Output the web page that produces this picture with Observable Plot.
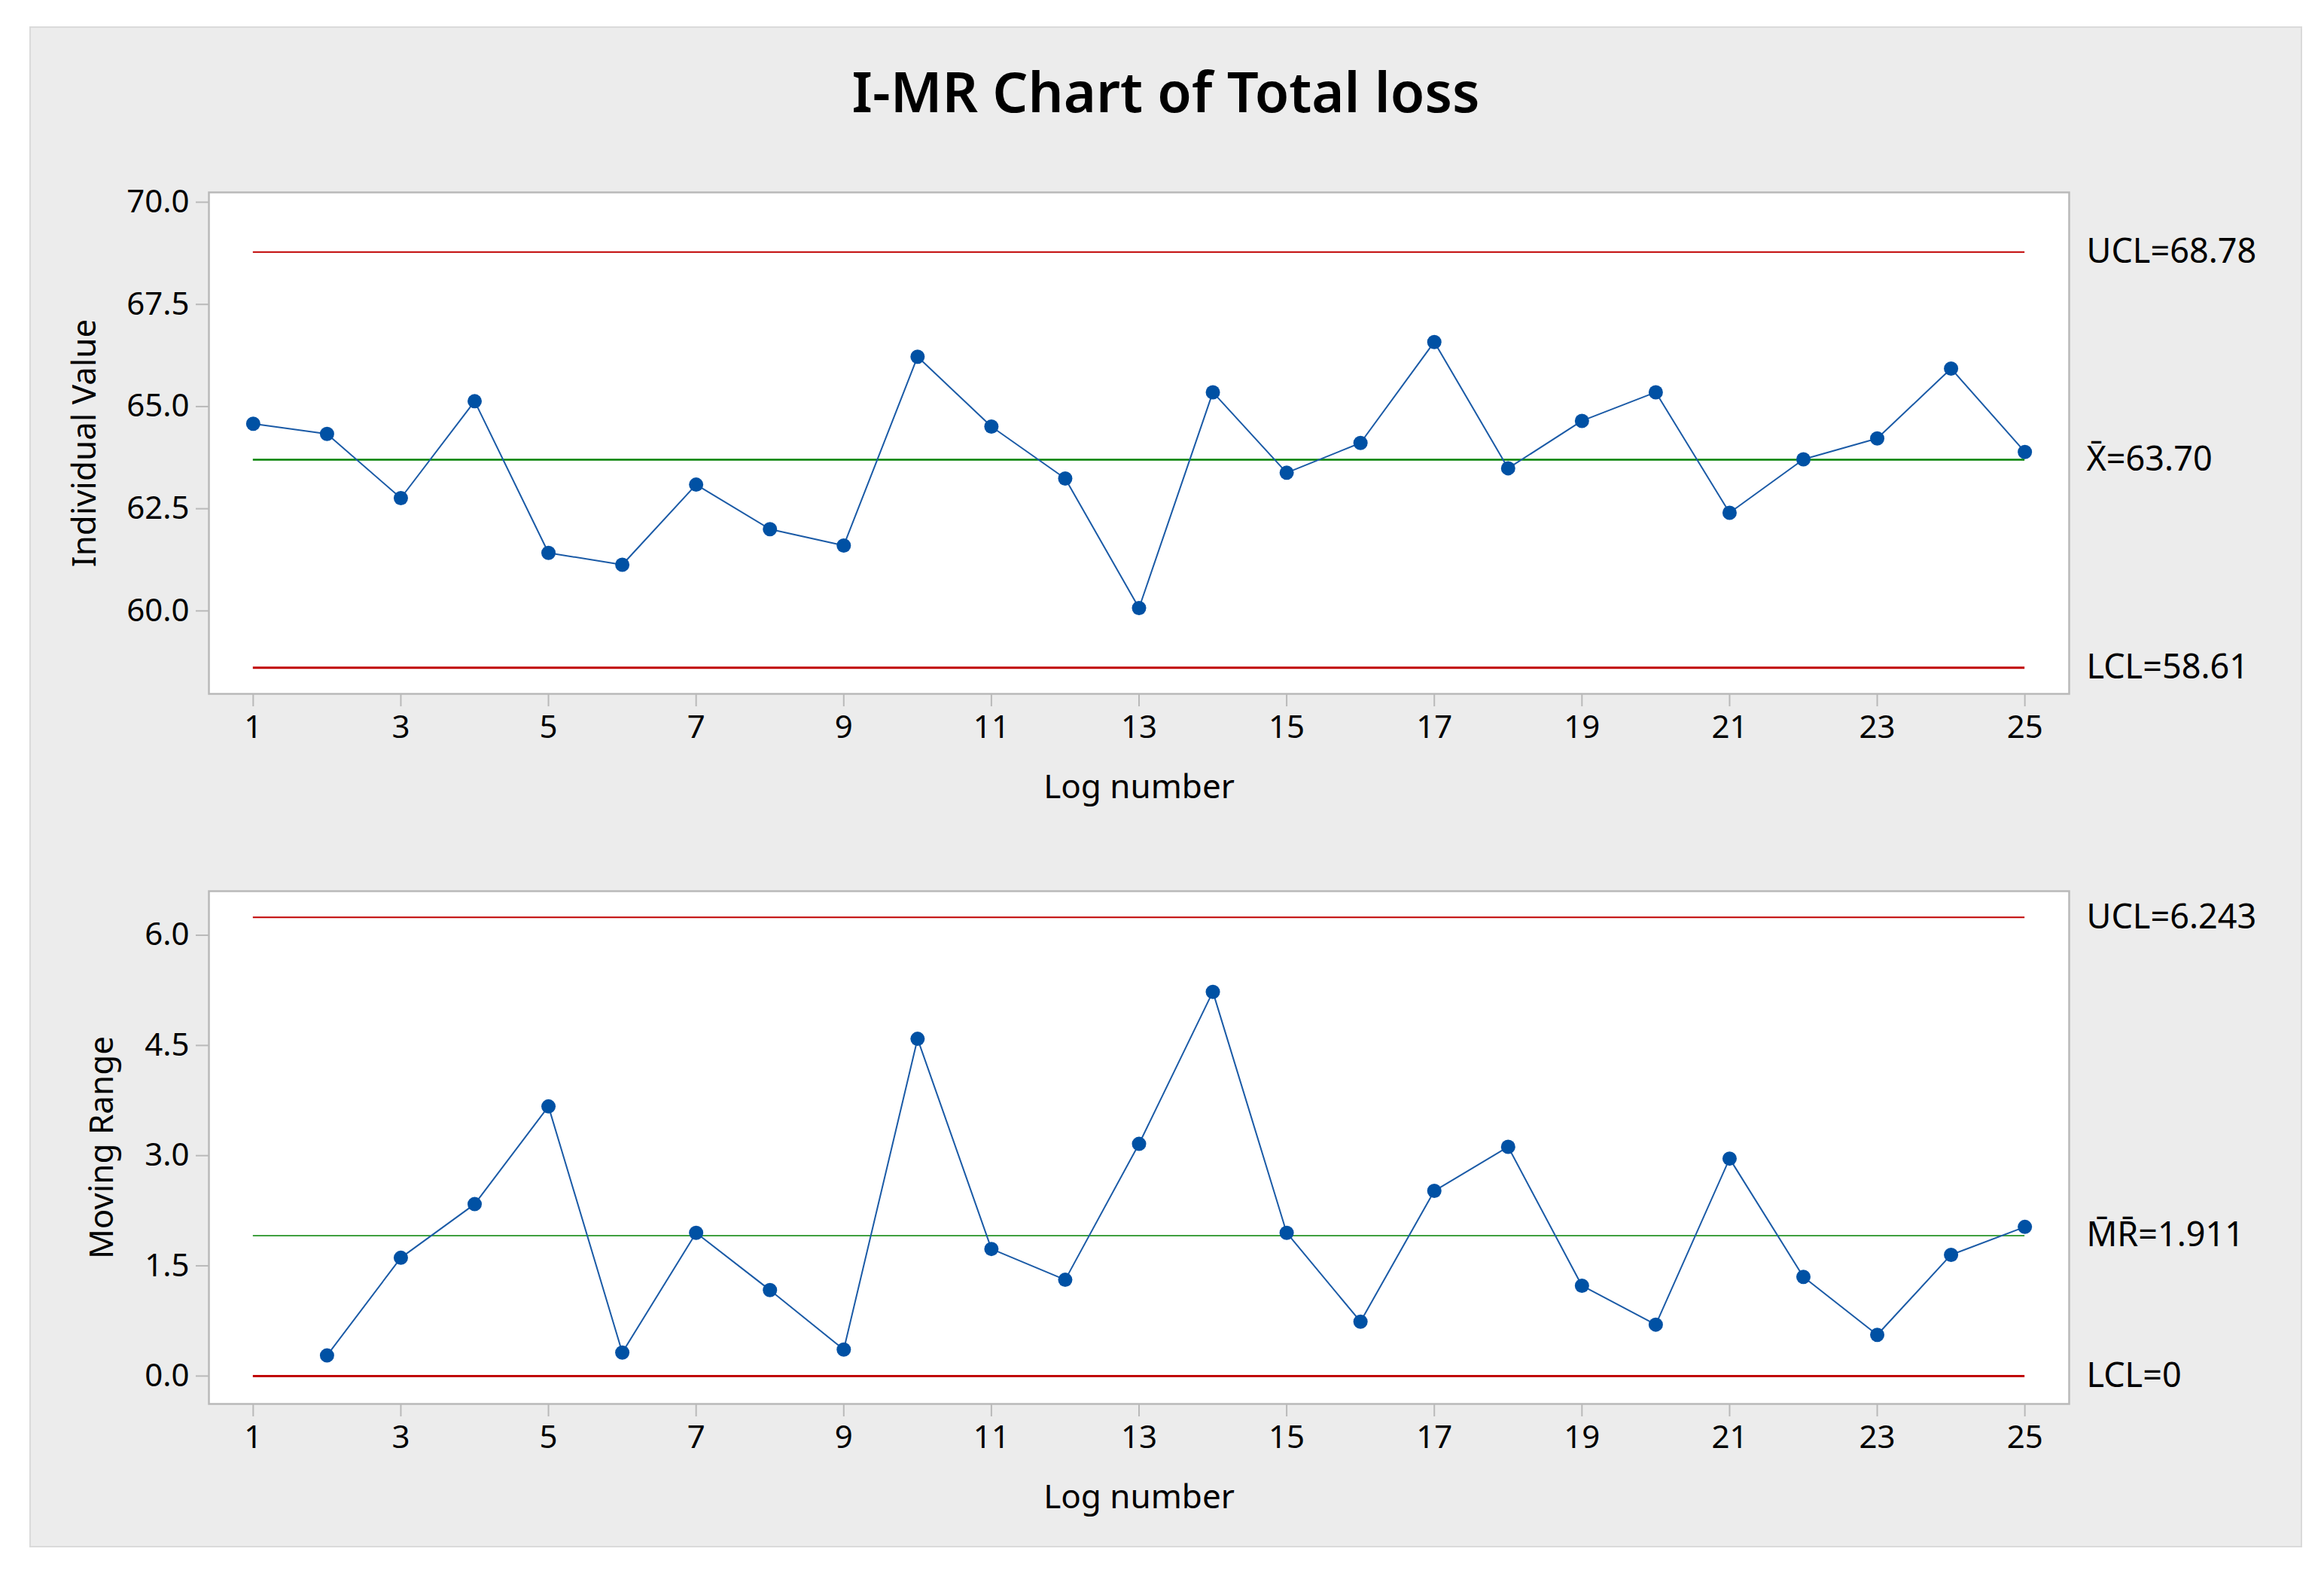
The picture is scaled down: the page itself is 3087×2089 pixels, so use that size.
<!DOCTYPE html>
<html>
<head>
<meta charset="utf-8">
<script src="https://cdn.jsdelivr.net/npm/d3@7"></script>
<script src="https://cdn.jsdelivr.net/npm/@observablehq/plot@0.6"></script>
<style>
  html, body { margin: 0; padding: 0; background: #ffffff; }
  #panel { position: absolute; left: 39px; top: 35px; width: 3019px; height: 2020px;
           background: #ececec; box-shadow: inset 0 0 0 2px #dadada; }
  #title { position: absolute; left: 0; top: 36px; width: 100%; height: 100px; line-height: 100px;
           text-align: center; font-family: "Noto Sans", sans-serif; font-weight: 600; font-size: 74px; color: #000; }
  #top { position: absolute; left: 0; top: 165px; }
  #bottom { position: absolute; left: 0; top: 1095px; }
  svg { display: block; }
</style>
</head>
<body>
<div id="panel">
  <div id="title">I-MR Chart of Total loss</div>
  <div id="top"></div>
  <div id="bottom"></div>
</div>
<script>
// ---- data ----
const logNumbers = [1,2,3,4,5,6,7,8,9,10,11,12,13,14,15,16,17,18,19,20,21,22,23,24,25];
const individualValues = [64.58,64.33,62.76,65.13,61.42,61.13,63.09,62.00,61.60,66.22,64.51,63.24,60.07,
                          65.35,63.38,64.11,66.58,63.49,64.65,65.35,62.40,63.71,64.22,65.93,63.89];
const movingRanges = [null,0.28,1.61,2.34,3.67,0.32,1.95,1.17,0.36,4.59,1.73,1.31,3.16,
                      5.23,1.95,0.74,2.52,3.12,1.23,0.70,2.96,1.35,0.56,1.65,2.03];
const xTicks = [1,3,5,7,9,11,13,15,17,19,21,23,25];
const iTicks = [60.0, 62.5, 65.0, 67.5, 70.0];
const mrTicks = [0.0, 1.5, 3.0, 4.5, 6.0];
const iLimitValues = [68.78, 63.70, 58.61];
const iLimitLabels = ["UCL=68.78", "X\u0304=63.70", "LCL=58.61"];
const mrLimitValues = [6.243, 1.911, 0];
const mrLimitLabels = ["UCL=6.243", "M\u0304R\u0304=1.911", "LCL=0"];
const limitKinds = ["ucl", "center", "lcl"];
const iDomain = [57.97, 70.24];
const mrDomain = [-0.38, 6.6];

// ---- helpers ----
const FONT = "Noto Sans";
const limitColor = {ucl: "#c00000", center: "#008000", lcl: "#c00000"};
const limitWidth = {ucl: 2, center: 2.5, lcl: 3};
const pts = (ys) => logNumbers.map((x, i) => ({x, y: ys[i]}));
const limits = (vals, labs) => vals.map((v, i) => ({value: v, label: labs[i], kind: limitKinds[i],
                                                    x1: logNumbers[0], x2: logNumbers[logNumbers.length - 1]}));

function chart({ys, lims, ticks, domain, yLabel, yLabelDx, height, marginTop, marginBottom, centerWidth}) {
  return Plot.plot({
    width: 3019, height,
    marginLeft: 238, marginRight: 310, marginTop, marginBottom,
    style: {background: "transparent", fontFamily: FONT, fontSize: "42px", color: "#000", overflow: "visible"},
    x: {domain: [0.4, 25.6]},
    y: {domain},
    marks: [
      Plot.frame({fill: "white", stroke: "#b9b9b9", strokeWidth: 2.5}),
      Plot.axisX({ticks: xTicks, tickSize: 17, tickPadding: 12, stroke: "#b9b9b9", strokeWidth: 2,
                  fill: "#000", tickFormat: d => String(d), label: null}),
      Plot.axisY({ticks, tickSize: 17, tickPadding: 9, stroke: "#b9b9b9", strokeWidth: 2,
                  fill: "#000", tickFormat: d3.format(".1f"), label: null}),
      ...lims.map(l => Plot.ruleY([l], {y: "value", x1: "x1", x2: "x2", stroke: limitColor[l.kind],
                                         strokeWidth: l.kind === "center" ? centerWidth : limitWidth[l.kind]})),
      Plot.line(pts(ys), {x: "x", y: "y", stroke: "#1a5aa6", strokeWidth: 2}),
      Plot.dot(pts(ys), {x: "x", y: "y", r: 9.5, fill: "#0051a4", stroke: null}),
      Plot.text(lims, {y: "value", text: "label", frameAnchor: "right", dx: 23, textAnchor: "start",
                       lineAnchor: "middle", fontSize: 45, fill: "#000"}),
      Plot.text([yLabel], {frameAnchor: "left", dx: yLabelDx, rotate: -90, textAnchor: "middle",
                           lineAnchor: "middle", fontSize: 44, fill: "#000"}),
      Plot.text(["Log number"], {frameAnchor: "bottom", dy: 124, textAnchor: "middle",
                                 lineAnchor: "middle", fontSize: 44, fill: "#000"})
    ]
  });
}

document.getElementById("top").append(chart({
  ys: individualValues, lims: limits(iLimitValues, iLimitLabels), ticks: iTicks, domain: iDomain,
  yLabel: "Individual Value", yLabelDx: -165, height: 930, marginTop: 55, marginBottom: 209, centerWidth: 2.5
}));
document.getElementById("bottom").append(chart({
  ys: movingRanges, lims: limits(mrLimitValues, mrLimitLabels), ticks: mrTicks, domain: mrDomain,
  yLabel: "Moving Range", yLabelDx: -142, height: 925, marginTop: 53, marginBottom: 191, centerWidth: 1.5
}));
</script>
</body>
</html>
